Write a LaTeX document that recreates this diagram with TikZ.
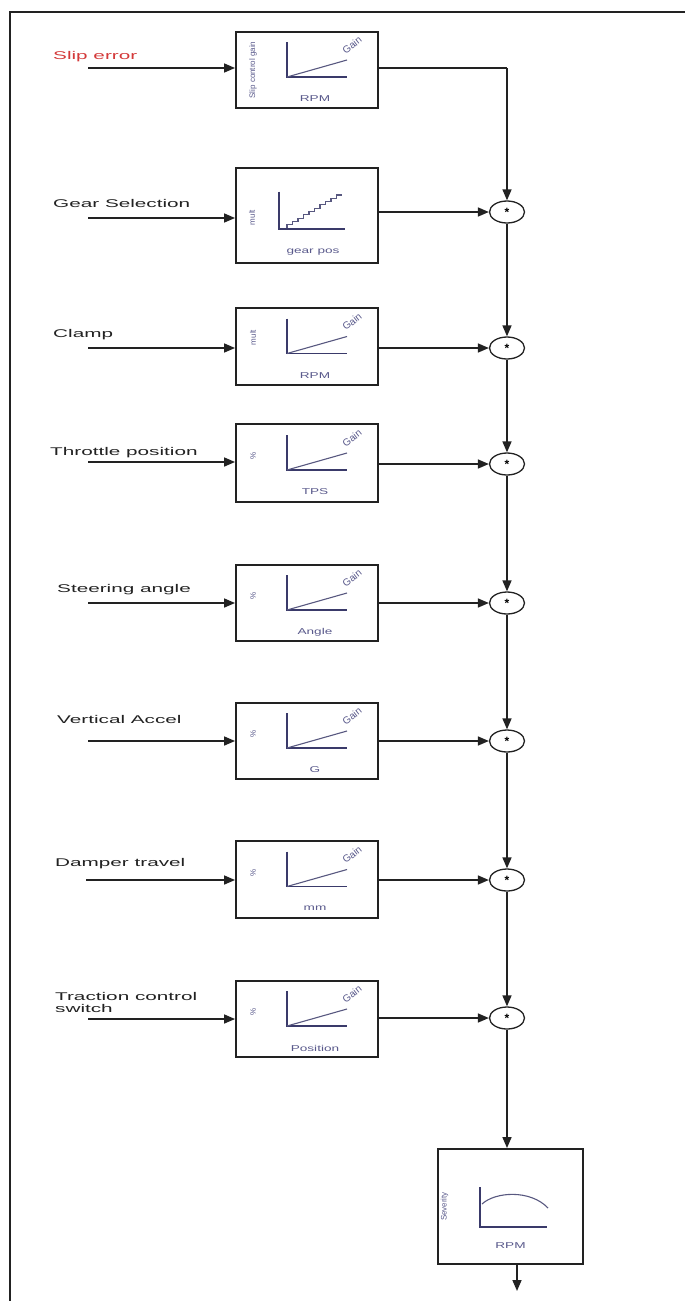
\documentclass[tikz,border=0pt]{standalone}
\usepackage{fontspec}
\setmainfont{Liberation Sans}
\newfontfamily\lblfont[FakeStretch=1.85]{Liberation Sans}
\newfontfamily\inlfont[FakeStretch=1.6]{Liberation Sans}
\usetikzlibrary{arrows.meta,shapes.geometric}
\definecolor{ink}{HTML}{222222}
\definecolor{plotc}{HTML}{3A3A6A}
\definecolor{inner}{HTML}{5A5A8C}
\definecolor{slipred}{HTML}{D43A3A}
\tikzset{
 blk/.style={draw=ink, line width=1.9pt, fill=white, minimum width=142pt, inner sep=0pt},
 multnode/.style={ellipse, draw=ink, line width=1.3pt, minimum width=35pt, minimum height=22pt, inner sep=0pt, font=\bfseries\fontsize{12}{12}\selectfont},
 arr/.style={draw=ink, line width=1.6pt, -{Triangle[length=11pt,width=9pt]}},
 wire/.style={draw=ink, line width=1.6pt},
 lbl/.style={font=\lblfont\fontsize{11.2}{11.5}\selectfont, text=ink, anchor=base west, inner sep=0pt},
 plotline/.style={draw=plotc, line width=1.6pt},
 curveline/.style={draw=plotc!85, line width=1.1pt},
 inlbl/.style={font=\inlfont\fontsize{8.5}{9}\selectfont, text=inner, inner sep=0pt},
 ylbl/.style={font=\fontsize{8}{9}\selectfont, text=inner, rotate=90, inner sep=0pt},
 gainlbl/.style={font=\fontsize{10}{11}\selectfont, text=inner, rotate=38, inner sep=0pt},
}
\newcommand\gainplot[4]{%
 \begin{scope}[shift={(#1.center)}]
  \draw[plotline] (-20,-28) -- (-20,7) -- (40,7);
  \draw[curveline] (-20,7) -- (40,-10);
  \node[gainlbl] (#1g) at (45,-25) {Gain};
  \node[inlbl] (#1x) at (8,29) {#3};
  \node[ylbl] (#1y) at (-54,#4) {#2};
 \end{scope}}
\begin{document}
\begin{tikzpicture}[x=1pt,y=-1pt]
\useasboundingbox (0,0) rectangle (685,1301);
\fill[white] (0,0) rectangle (685,1301);
\draw[ink, line width=1.5pt] (10,1301) -- (10,12) -- (685,12);

% blocks
\node[blk, minimum height=76pt] (b1) at (307,70) {};
\node[blk, minimum height=95pt] (b2) at (307,215.5) {};
\node[blk, minimum height=77pt] (b3) at (307,346.5) {};
\node[blk, minimum height=78pt] (b4) at (307,463) {};
\node[blk, minimum height=76pt] (b5) at (307,603) {};
\node[blk, minimum height=76pt] (b6) at (307,741) {};
\node[blk, minimum height=77pt] (b7) at (307,879.5) {};
\node[blk, minimum height=76pt] (b8) at (307,1019) {};
\node[blk, minimum width=145pt, minimum height=115pt] (fb) at (510.5,1206.5) {};

% plots
\gainplot{b1}{Slip control gain}{RPM}{0}
\begin{scope}[shift={(b2.center)}]
 \draw[plotline] (-28,-24) -- (-28,13.5) -- (38,13.5);
 \draw[curveline] (-20,12.5) \foreach \i in {1,...,10}{ -- ++(0,-3.3) -- ++(5.5,0)};
 \node[ylbl] (b2y) at (-55,2) {mult};
 \node[inlbl] (b2x) at (6,37) {gear pos};
\end{scope}
\gainplot{b3}{mult}{RPM}{-9}
\gainplot{b4}{\%}{TPS}{-7}
\gainplot{b5}{\%}{Angle}{-7}
\gainplot{b6}{\%}{G}{-7}
\gainplot{b7}{\%}{mm}{-7}
\gainplot{b8}{\%}{Position}{-7}
\begin{scope}[shift={(fb.center)}]
 \draw[plotline] (-30.5,-19.5) -- (-30.5,20.5) -- (36.5,20.5);
 \draw[curveline] (-28.5,-2.5) .. controls (-15,-15) and (20,-17) .. (37.5,1.5);
 \node[ylbl] (fby) at (-66,0) {Severity};
 \node[inlbl] (fbx) at (0,39.5) {RPM};
\end{scope}

% input labels
\node[lbl, text=slipred] (l1) at (53,59) {Slip error};
\node[lbl] (l2) at (53,207) {Gear Selection};
\node[lbl] (l3) at (53,337) {Clamp};
\node[lbl] (l4) at (50,455) {Throttle position};
\node[lbl] (l5) at (57,592) {Steering angle};
\node[lbl] (l6) at (57,723) {Vertical Accel};
\node[lbl] (l7) at (55,866) {Damper travel};
\node[lbl, align=left] (l8) at (55,1012) {Traction control\\switch};

% input arrows
\coordinate (s1) at (88,68);
\coordinate (s2) at (88,218);
\coordinate (s3) at (88,348);
\coordinate (s4) at (88,462);
\coordinate (s5) at (88,603);
\coordinate (s6) at (88,741);
\coordinate (s7) at (86,880);
\coordinate (s8) at (88,1019);
\foreach \k in {1,...,8}{\draw[arr] (s\k) -- (s\k -| b\k.west);}

% multipliers
\node[multnode] (c2) at (507,212) {*};
\node[multnode] (c3) at (507,348) {*};
\node[multnode] (c4) at (507,464) {*};
\node[multnode] (c5) at (507,603) {*};
\node[multnode] (c6) at (507,741) {*};
\node[multnode] (c7) at (507,880) {*};
\node[multnode] (c8) at (507,1018) {*};

% chain
\coordinate (j1) at (507,68);
\draw[wire] (b1.east |- j1) -- (j1);
\draw[arr] (j1) -- (c2.north);
\foreach \k in {2,...,8}{\draw[arr] (b\k.east |- c\k) -- (c\k.west);}
\draw[arr] (c2.south) -- (c3.north);
\draw[arr] (c3.south) -- (c4.north);
\draw[arr] (c4.south) -- (c5.north);
\draw[arr] (c5.south) -- (c6.north);
\draw[arr] (c6.south) -- (c7.north);
\draw[arr] (c7.south) -- (c8.north);
\draw[arr] (c8.south) -- (c8.south |- fb.north);
\coordinate (o) at (517,1291);
\draw[arr] (o |- fb.south) -- (o);
\end{tikzpicture}
\end{document}
